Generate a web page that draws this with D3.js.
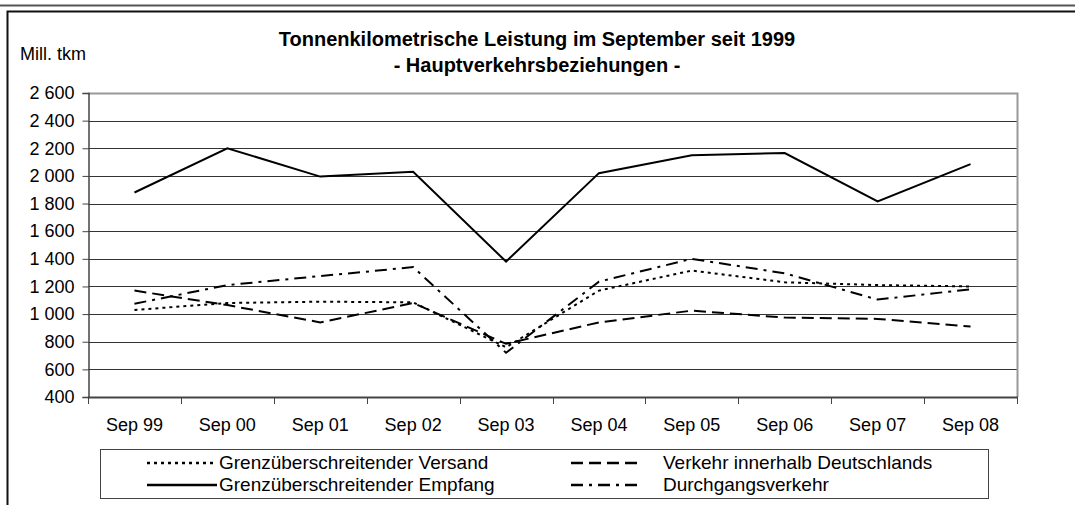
<!DOCTYPE html>
<html lang="de">
<head>
<meta charset="UTF-8" />
<title>Tonnenkilometrische Leistung</title>
<script src="https://d3js.org/d3.v7.min.js"></script>
<style>
  body { margin: 0; background: #fff; }
  svg { display: block; font-family: "Liberation Sans", Arial, sans-serif; }
  .tick-label { font-size: 18px; fill: #000; }
  .legend-label { font-size: 19px; fill: #000; }
</style>
</head>
<body>
<svg width="1075" height="505"></svg>
<script>
// Daten
var categories = ['Sep 99', 'Sep 00', 'Sep 01', 'Sep 02', 'Sep 03', 'Sep 04', 'Sep 05', 'Sep 06', 'Sep 07', 'Sep 08']
var versand   = [1030, 1080, 1090, 1085, 760, 1170, 1315, 1230, 1210, 1200]
var empfang   = [1880, 2200, 1995, 2030, 1380, 2020, 2150, 2165, 1815, 2085]
var innerhalb = [1170, 1065, 940, 1080, 785, 940, 1025, 975, 965, 910]
var durchgang = [1075, 1210, 1275, 1340, 720, 1235, 1400, 1295, 1105, 1180]
var yTicks = [400, 600, 800, 1000, 1200, 1400, 1600, 1800, 2000, 2200, 2400, 2600]

var series = [
  { name: 'Grenzüberschreitender Versand', values: versand, dash: '3,4' },
  { name: 'Verkehr innerhalb Deutschlands', values: innerhalb, dash: '12,6' },
  { name: 'Grenzüberschreitender Empfang', values: empfang, dash: null },
  { name: 'Durchgangsverkehr', values: durchgang, dash: '12,6,3,6' }
]

var svg = d3.select('svg')

// Rahmen
svg.append('line').attr('x1', 0).attr('x2', 1075).attr('y1', 5.5).attr('y2', 5.5)
  .attr('stroke', '#555').attr('stroke-width', 2)
svg.append('path').attr('d', 'M1075,11.5H7.5V505')
  .attr('fill', 'none').attr('stroke', '#111').attr('stroke-width', 2)

var plotLeft = 88, plotRight = 1017, plotTop = 93, plotBottom = 397

var x = d3.scaleBand().domain(categories).range([plotLeft, plotRight])
var y = d3.scaleLinear().domain([400, 2600]).range([plotBottom, plotTop])

// Gitter
svg.append('g').selectAll('line').data(yTicks.slice(1)).enter().append('line')
  .attr('x1', plotLeft).attr('x2', plotRight)
  .attr('y1', function (d) { return Math.round(y(d)) + 0.5 })
  .attr('y2', function (d) { return Math.round(y(d)) + 0.5 })
  .attr('stroke', '#333').attr('stroke-width', 1)

// Rahmen Zeichenfläche oben/rechts
svg.append('path').attr('d', 'M' + plotLeft + ',' + (plotTop + 0.5) + 'H' + (plotRight + 0.5) + 'V' + plotBottom)
  .attr('fill', 'none').attr('stroke', '#999').attr('stroke-width', 2)

// y-Achse
var yAxis = d3.axisLeft(y).tickValues(yTicks).tickSizeOuter(0).tickSize(6).tickPadding(8)
var gy = svg.append('g').attr('transform', 'translate(' + (plotLeft + 0.5) + ',0)').call(yAxis)
gy.select('.domain').attr('stroke', '#444').attr('stroke-width', 1.5)
gy.selectAll('.tick line').attr('stroke', '#444')
gy.attr('font-size', null).attr('font-family', null)
gy.selectAll('.tick text').attr('class', 'tick-label')
  .text(function (d) { return d >= 1000 ? Math.floor(d / 1000) + ' ' + d3.format('03')(d % 1000) : d })

// x-Achse
svg.append('line').attr('x1', plotLeft).attr('x2', plotRight + 1).attr('y1', plotBottom + 0.5).attr('y2', plotBottom + 0.5)
  .attr('stroke', '#444').attr('stroke-width', 2)
var bounds = categories.map(function (c) { return x(c) }).concat([plotRight])
svg.append('g').selectAll('line').data(bounds).enter().append('line')
  .attr('x1', function (d) { return Math.round(d) + 0.5 })
  .attr('x2', function (d) { return Math.round(d) + 0.5 })
  .attr('y1', plotBottom).attr('y2', plotBottom + 7)
  .attr('stroke', '#444').attr('stroke-width', 1)
svg.append('g').selectAll('text').data(categories).enter().append('text')
  .attr('class', 'tick-label')
  .attr('x', function (d) { return x(d) + x.bandwidth() / 2 })
  .attr('y', 431)
  .attr('text-anchor', 'middle')
  .text(function (d) { return d })

// Linien
var line = d3.line()
  .x(function (d, i) { return x(categories[i]) + x.bandwidth() / 2 })
  .y(function (d) { return y(d) })

svg.append('g').selectAll('path').data(series).enter().append('path')
  .attr('d', function (d) { return line(d.values) })
  .attr('fill', 'none')
  .attr('stroke', '#000')
  .attr('stroke-width', 2)
  .attr('stroke-dasharray', function (d) { return d.dash })

// Titel
svg.append('text').attr('x', 537).attr('y', 46).attr('text-anchor', 'middle')
  .attr('font-weight', 'bold').attr('font-size', 20)
  .text('Tonnenkilometrische Leistung im September seit 1999')
svg.append('text').attr('x', 537).attr('y', 72).attr('text-anchor', 'middle')
  .attr('font-weight', 'bold').attr('font-size', 20)
  .text('- Hauptverkehrsbeziehungen -')

svg.append('text').attr('x', 20).attr('y', 60).attr('class', 'tick-label').text('Mill. tkm')

// Legende
svg.append('rect').attr('x', 100.5).attr('y', 449.5).attr('width', 888).attr('height', 49)
  .attr('fill', '#fff').attr('stroke', '#444').attr('stroke-width', 1)
var legendPos = [
  { sx: 147, tx: 219, y: 463 },
  { sx: 571, tx: 663, y: 463 },
  { sx: 147, tx: 219, y: 485 },
  { sx: 571, tx: 663, y: 485 }
]
var lg = svg.append('g').selectAll('g').data(series).enter().append('g')
lg.append('line')
  .attr('x1', function (d, i) { return legendPos[i].sx })
  .attr('x2', function (d, i) { return legendPos[i].sx + 70 })
  .attr('y1', function (d, i) { return legendPos[i].y })
  .attr('y2', function (d, i) { return legendPos[i].y })
  .attr('stroke', '#000').attr('stroke-width', 2.5)
  .attr('stroke-dasharray', function (d) { return d.dash })
lg.append('text').attr('class', 'legend-label')
  .attr('x', function (d, i) { return legendPos[i].tx })
  .attr('y', function (d, i) { return legendPos[i].y + 6 })
  .text(function (d) { return d.name })
</script>
</body>
</html>
